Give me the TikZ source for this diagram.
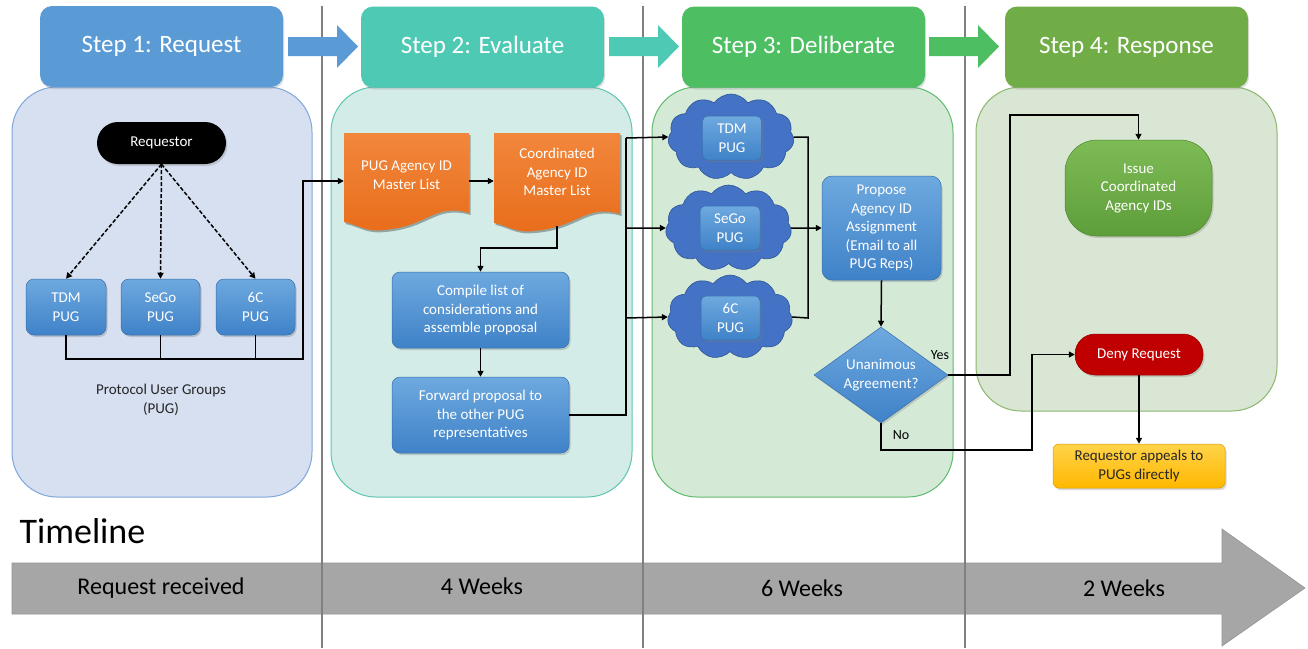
\documentclass[tikz,border=0pt]{standalone}
\usepackage{fontspec}
\setmainfont{Carlito}
\usetikzlibrary{shapes.geometric,shapes.symbols,arrows.meta,shadows}
\definecolor{hdrA}{HTML}{5B9BD5}
\definecolor{hdrB}{HTML}{4EC9B4}
\definecolor{hdrC}{HTML}{4DBE62}
\definecolor{hdrD}{HTML}{70AD47}
\definecolor{panA}{HTML}{D6E0F1}
\definecolor{panAb}{HTML}{7FA7DA}
\definecolor{panB}{HTML}{D3ECE7}
\definecolor{panBb}{HTML}{5EC5B0}
\definecolor{panC}{HTML}{D4EAD7}
\definecolor{panCb}{HTML}{5EBB6D}
\definecolor{panD}{HTML}{D9E6D3}
\definecolor{panDb}{HTML}{8BB76E}
\definecolor{blueT}{HTML}{6EA9DF}
\definecolor{blueB}{HTML}{3F82C8}
\definecolor{orT}{HTML}{F2873C}
\definecolor{orB}{HTML}{E86D1B}
\definecolor{cloudF}{HTML}{4472C4}
\definecolor{cloudD}{HTML}{2F5597}
\definecolor{redF}{HTML}{C00000}
\definecolor{yelT}{HTML}{FFD34A}
\definecolor{yelB}{HTML}{FFB800}
\definecolor{grnT}{HTML}{7DBB55}
\definecolor{grnB}{HTML}{5E9E3A}
\definecolor{vline}{HTML}{808080}
\definecolor{tline}{HTML}{A6A6A6}
\definecolor{txtD}{HTML}{262626}
\begin{document}
\begin{tikzpicture}[x=1pt,y=-1pt,
  hdr/.style={rounded corners=12pt,text=white,font=\fontsize{25}{30}\selectfont,minimum width=243pt,minimum height=81pt,inner sep=0pt},
  panel/.style={rounded corners=45pt,line width=1pt},
  sm/.style={font=\fontsize{15}{18.5}\selectfont,align=center},
  bbox/.style={sm,rounded corners=8pt,top color=blueT,bottom color=blueB,draw=blueB!85!black,line width=0.5pt,text=white,inner sep=0pt,drop shadow={opacity=0.35,shadow xshift=1.5pt,shadow yshift=-2pt}},
  cloudbox/.style={cloud,cloud puffs=11,cloud puff arc=110,cloud ignores aspect,fill=cloudF,draw=cloudD,line width=0.6pt,inner sep=0pt},
  ln/.style={line width=1.5pt,black},
  arr/.style={ln,-{Triangle[length=6pt,width=6pt]}},
  dash arr/.style={arr,dashed,dash pattern=on 4pt off 2pt}
]
\useasboundingbox (0,0) rectangle (1308,648);
\fill[white] (0,0) rectangle (1308,648);

% timeline arrow
\draw[fill=tline,draw=tline!90!black,line width=0.6pt] (12,563) -- (1222,563) -- (1222,529) -- (1305,588) -- (1222,646) -- (1222,614) -- (12,614) -- cycle;
\node[anchor=west,font=\fontsize{36}{40}\selectfont,text=black] (tl) at (16,531) {Timeline};
\node[font=\fontsize{24}{28}\selectfont,text=black] (t1) at (161,588) {Request received};
\node[font=\fontsize{24}{28}\selectfont,text=black] (t2) at (482,586) {4 Weeks};
\node[font=\fontsize{24}{28}\selectfont,text=black] (t3) at (802,588) {6 Weeks};
\node[font=\fontsize{24}{28}\selectfont,text=black] (t4) at (1124,588) {2 Weeks};

% vertical separators
\draw[vline,line width=2pt] (322,6) -- (322,648);
\draw[vline,line width=2pt] (643,6) -- (643,648);
\draw[vline,line width=2pt] (965,6) -- (965,648);

% panels
\draw[panel,fill=panA,draw=panAb] (12,87) rectangle (312,497);
\draw[panel,fill=panB,draw=panBb] (331,87) rectangle (632,497);
\draw[panel,fill=panC,draw=panCb] (652,87) rectangle (953,497);
\draw[panel,fill=panD,draw=panDb] (976,87) rectangle (1277,411);

% headers
\node[hdr,fill=hdrA,drop shadow={opacity=0.25,shadow xshift=1pt,shadow yshift=-2pt}] (h1) at (161.5,46.5) {Step 1: Request};
\node[hdr,fill=hdrB,drop shadow={opacity=0.25,shadow xshift=1pt,shadow yshift=-2pt}] (h2) at (482.5,47) {Step 2: Evaluate};
\node[hdr,fill=hdrC,drop shadow={opacity=0.25,shadow xshift=1pt,shadow yshift=-2pt}] (h3) at (803.5,47) {Step 3: Deliberate};
\node[hdr,fill=hdrD,drop shadow={opacity=0.25,shadow xshift=1pt,shadow yshift=-2pt}] (h4) at (1126.5,47) {Step 4: Response};

% header block arrows
\fill[hdrA] (288,37) -- (337,37) -- (337,25) -- (358,46.5) -- (337,68) -- (337,56) -- (288,56) -- cycle;
\fill[hdrB] (609,37) -- (658,37) -- (658,25) -- (679,46.5) -- (658,68) -- (658,56) -- (609,56) -- cycle;
\fill[hdrC] (929,37) -- (978,37) -- (978,25) -- (999,46.5) -- (978,68) -- (978,56) -- (929,56) -- cycle;

% ---------- Step 1 ----------
\node[sm,fill=black,text=white,rounded corners=21pt,minimum width=129pt,minimum height=42pt,inner sep=0pt,drop shadow={opacity=0.3,shadow xshift=1.5pt,shadow yshift=-2pt}] (req) at (161.5,143) {Requestor};
\node[bbox,minimum width=80pt,minimum height=56pt] (tdm) at (66,307) {TDM\\PUG};
\node[bbox,minimum width=79pt,minimum height=56pt] (sego) at (160.5,307) {SeGo\\PUG};
\node[bbox,minimum width=79pt,minimum height=56pt] (six) at (255.5,307) {6C\\PUG};
\node[sm,text=txtD] (pugtxt) at (161,400) {Protocol User Groups\\(PUG)};

\draw[dash arr] (req.south) -- (tdm.north);
\draw[dash arr] (req.south) -- (sego.north);
\draw[dash arr] (req.south) -- (six.north);

\coordinate (j1) at (303,359);

% ---------- Step 2 ----------
\fill[black,opacity=0.3] ([shift={(1.5,2)}]344,133) -- ++(125,0) -- ++(0,80) .. controls ++(-35,-10) and ++(45,-4) .. ++(-85,17) .. controls ++(-20,2) and ++(15,3) .. ++(-40,-8) -- cycle;
\shade[top color=orT,bottom color=orB] (344,133) -- (469,133) -- (469,213) .. controls (434,203) and (429,226) .. (384,230) .. controls (364,232) and (359,225) .. (344,222) -- cycle;
\node[sm,text=white,minimum width=125pt,minimum height=95pt,inner sep=0pt] (pugl) at (406.5,181) {};
\node[sm,text=white] (pugltxt) at (406.5,175) {PUG Agency ID\\Master List};

\fill[black,opacity=0.3] ([shift={(1.5,2)}]494,133) -- ++(126,0) -- ++(0,81) .. controls ++(-35,-10) and ++(45,-4) .. ++(-86,17) .. controls ++(-20,2) and ++(15,3) .. ++(-40,-8) -- cycle;
\shade[top color=orT,bottom color=orB] (494,133) -- (620,133) -- (620,214) .. controls (585,204) and (579,227) .. (534,231) .. controls (514,233) and (509,226) .. (494,223) -- cycle;
\node[sm,text=white,minimum width=126pt,minimum height=95pt,inner sep=0pt] (coord) at (557,181) {};
\node[sm,text=white] (coordtxt) at (557,172) {Coordinated\\Agency ID\\Master List};
\coordinate (cbot) at (557,226);

\node[bbox,minimum width=177pt,minimum height=76pt] (comp) at (480.5,310) {Compile list of\\considerations and\\assemble proposal};
\node[bbox,minimum width=177pt,minimum height=76pt] (fwd) at (480.5,415) {Forward proposal to\\the other PUG\\representatives};

% ---------- Step 3 ----------
\node[cloudbox,minimum width=126pt,minimum height=86pt] (cl1) at (731,137) {};
\node[cloudbox,minimum width=126pt,minimum height=86pt] (cl2) at (728.5,228) {};
\node[cloudbox,minimum width=125pt,minimum height=84pt] (cl3) at (730,317) {};
\node[bbox,minimum width=59pt,minimum height=44pt,rounded corners=5pt] (cb1) at (732,138) {TDM\\PUG};
\node[bbox,minimum width=60pt,minimum height=44pt,rounded corners=5pt] (cb2) at (730,228) {SeGo\\PUG};
\node[bbox,minimum width=59pt,minimum height=44pt,rounded corners=5pt] (cb3) at (730.5,318) {6C\\PUG};

\node[bbox,minimum width=119pt,minimum height=104pt,rounded corners=10pt] (prop) at (881.5,228) {Propose\\Agency ID\\Assignment\\(Email to all\\PUG Reps)};
\node[sm,diamond,aspect=1.4,minimum width=134pt,minimum height=96pt,inner sep=0pt,top color=blueT,bottom color=blueB,draw=blueB!85!black,line width=0.5pt,text=white,drop shadow={opacity=0.3,shadow xshift=1.5pt,shadow yshift=-2pt}] (dia) at (881,375) {Unanimous\\Agreement?};
\node[font=\fontsize{14}{16}\selectfont,text=black] (yes) at (940,355) {Yes};
\node[font=\fontsize{14}{16}\selectfont,text=black] (no) at (901,435) {No};

\coordinate (b1) at (626,138);
\coordinate (b2) at (626,228);
\coordinate (b3) at (626,318);
\coordinate (m1) at (808,137);
\coordinate (m3) at (808,318);
\coordinate (y1) at (1010,115);
\coordinate (n1) at (1032,450);

% ---------- Step 4 ----------
\node[sm,rounded corners=32pt,top color=grnT,bottom color=grnB,draw=grnB!85!black,line width=0.5pt,text=white,minimum width=147pt,minimum height=96pt,inner sep=0pt,drop shadow={opacity=0.3,shadow xshift=1.5pt,shadow yshift=-2pt}] (issue) at (1138.5,188) {Issue\\Coordinated\\Agency IDs};
\node[sm,rounded corners=20pt,fill=redF,draw=redF!80!black,line width=0.5pt,text=white,minimum width=128pt,minimum height=41pt,inner sep=0pt,drop shadow={opacity=0.3,shadow xshift=1.5pt,shadow yshift=-2pt}] (deny) at (1139,354.5) {Deny Request};
\node[sm,rounded corners=6pt,top color=yelT,bottom color=yelB,draw=yelB!85!black,line width=0.5pt,text=txtD,minimum width=172pt,minimum height=44pt,inner sep=0pt,drop shadow={opacity=0.3,shadow xshift=1.5pt,shadow yshift=-2pt}] (appeal) at (1139,466) {Requestor appeals to\\PUGs directly};

% ---------- connectors ----------
\draw[ln] (sego.south) -- (sego.south |- j1);
\draw[ln] (six.south) -- (six.south |- j1);
\draw[arr] (tdm.south) |- (j1) |- (pugl.west);
\draw[arr] (pugl.east) -- (coord.west);
\draw[arr] (cbot) -- ++(0,22) -| (comp.north);
\draw[arr] (comp.south) -- (fwd.north);
\draw[ln] (fwd.east) -| (b1);
\draw[arr] (b1) -- (cl1.west);
\draw[arr] (b2) -- (cl2.west);
\draw[arr] (b3) -- (cl3.west);
\draw[ln] (cl1.east) -- (m1) -- (m3) -- (cl3.east);
\draw[arr] (cl2.east) -- (prop.west);
\draw[arr] (prop.south) -- (dia.north);
\draw[arr] (dia.east) -| (y1) -| (issue.north);
\draw[arr] (dia.south) |- (n1) |- (deny.west);
\draw[arr] (deny.south) -- (appeal.north);
\end{tikzpicture}
\end{document}
